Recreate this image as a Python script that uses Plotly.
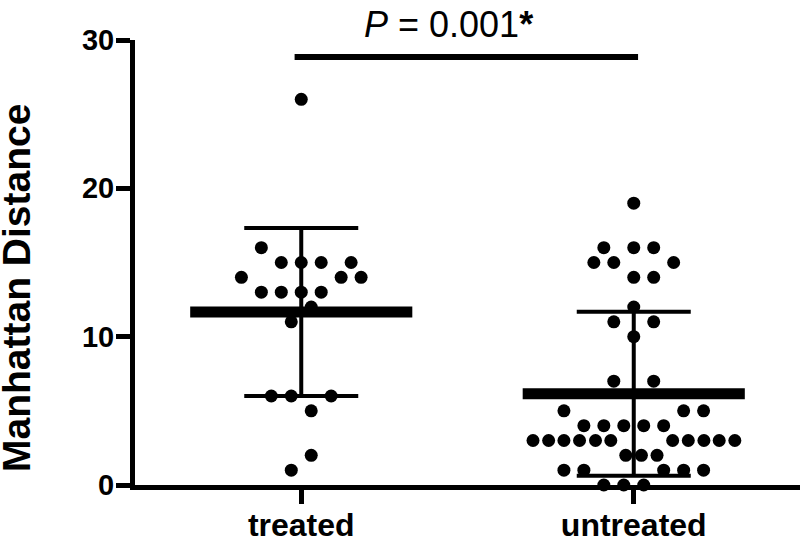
import numpy as np
import plotly.graph_objects as go

categories = ["treated", "untreated"]

treated_values = [26, 16, 15, 15, 15, 15, 14, 14, 14, 13, 13, 13, 13, 12, 11, 6, 6, 6, 5, 2, 1]
untreated_values = [19, 16, 16, 16, 15, 15, 15, 14, 14, 12, 11, 11, 10, 7, 7,
                    5, 5, 5, 4, 4, 4, 4, 4,
                    3, 3, 3, 3, 3, 3, 3, 3, 3, 3, 3,
                    2, 2, 2, 1, 1, 1, 1, 1, 0, 0, 0]

# horizontal scatter offsets (category units), scatter-dot layout
treated_offsets = [0, -0.12, -0.06, 0, 0.06, 0.15, -0.18, 0.12, 0.18,
                   -0.12, -0.06, 0, 0.06, 0.03, -0.03, -0.09, -0.03, 0.09, 0.03, 0.03, -0.03]
untreated_offsets = [0, -0.09, 0, 0.06, -0.12, -0.06, 0.12, 0, 0.06, 0, -0.06, 0.06, 0,
                     -0.06, 0.06,
                     -0.21, 0.15, 0.21,
                     -0.15, -0.09, -0.03, 0.03, 0.09,
                     -0.303, -0.256, -0.21, -0.163, -0.115, -0.069, 0.117, 0.164, 0.211, 0.257, 0.304,
                     -0.024, 0.023, 0.07,
                     -0.21, -0.15, 0.09, 0.15, 0.21,
                     -0.09, -0.03, 0.03]

y_tick_values = [0, 10, 20, 30]
p_label = "<i>P</i> = 0.001<b>*</b>"
y_title = "Manhattan Distance"

groups = [(treated_values, treated_offsets), (untreated_values, untreated_offsets)]

FONT = "Liberation Sans, Arial, sans-serif"
fig = go.Figure()

for i, (vals, offs) in enumerate(groups):
    vals = np.array(vals, dtype=float)
    m = vals.mean()
    sd = vals.std(ddof=1)
    # dots
    fig.add_trace(go.Scatter(
        x=[i + o for o in offs], y=vals, mode="markers",
        marker=dict(color="black", size=13, line=dict(width=0)),
        cliponaxis=False, showlegend=False, hoverinfo="y"))
    # mean bar
    fig.add_trace(go.Scatter(
        x=[i - 0.334, i + 0.334], y=[m, m], mode="lines",
        line=dict(color="black", width=11), showlegend=False, hoverinfo="skip"))
    # SD error bar
    fig.add_trace(go.Scatter(
        x=[i], y=[m], mode="markers", marker=dict(size=0.1, color="black"),
        error_y=dict(type="data", array=[sd], visible=True, color="black",
                     thickness=4, width=57),
        showlegend=False, hoverinfo="skip"))

# significance line
fig.add_shape(type="line", xref="x", yref="y", x0=-0.02, x1=1.013, y0=28.86, y1=28.86,
              line=dict(color="black", width=6))

fig.add_annotation(text=p_label, xref="paper", yref="paper",
                   x=(448 - 135) / 665, y=(485 - 24) / 445,
                   xanchor="center", yanchor="middle", showarrow=False,
                   font=dict(family=FONT, size=36, color="black"))

fig.add_annotation(text=y_title, xref="paper", yref="paper",
                   x=(16 - 135) / 665, y=(485 - 288) / 445, textangle=-90,
                   xanchor="center", yanchor="middle", showarrow=False,
                   font=dict(family=FONT, size=39, color="black", weight="bold"))

fig.update_xaxes(range=[-0.5, 1.5], tickvals=[0, 1], ticktext=categories,
                 showline=True, linewidth=5, linecolor="black",
                 ticks="outside", ticklen=14, tickwidth=5, tickcolor="black",
                 showgrid=False, zeroline=False, automargin=False,
                 ticklabelstandoff=-6,
                 tickfont=dict(family=FONT, size=32, color="black", weight="bold"))
fig.update_yaxes(range=[0, 30], tickvals=y_tick_values,
                 showline=True, linewidth=5, linecolor="black",
                 ticks="outside", ticklen=14, tickwidth=5, tickcolor="black",
                 showgrid=False, zeroline=False, automargin=False,
                 ticklabelstandoff=-4,
                 tickfont=dict(family=FONT, size=29, color="black", weight="bold"))

fig.update_layout(width=800, height=541, plot_bgcolor="white", paper_bgcolor="white",
                  template="none",
                  margin=dict(l=135, r=0, t=40, b=56, pad=0), showlegend=False)

fig.write_html("out.html", config={"displayModeBar": False},
               post_script="document.body.style.margin='0px';document.body.style.overflow='hidden';")
